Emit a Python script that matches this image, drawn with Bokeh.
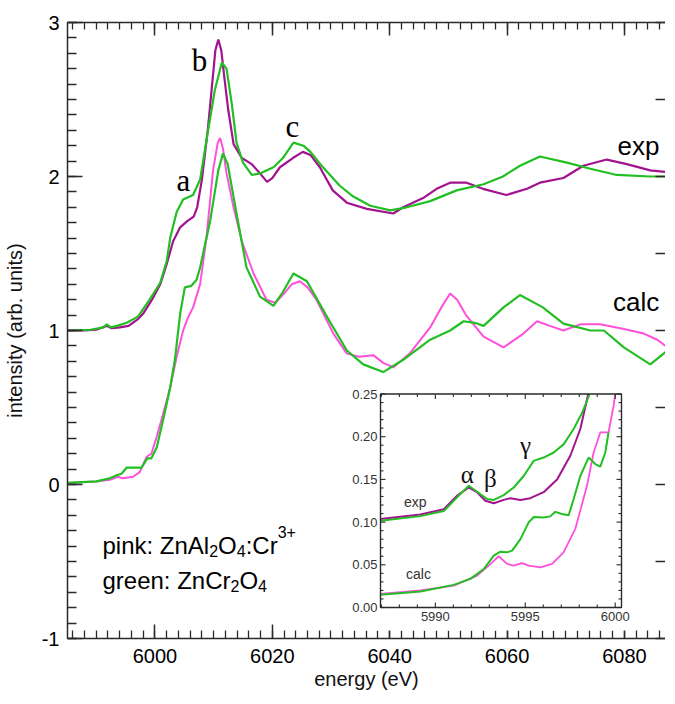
import numpy as np
from bokeh.plotting import figure
from bokeh.models import (Range1d, LinearAxis, SingleIntervalTicker,
                          CustomJSTickFormatter, ColumnDataSource)
from bokeh.core.properties import value
from bokeh.embed import file_html
from bokeh.resources import INLINE

# ---------------- data ----------------
exp_pink_e = [5985.1, 5988, 5990, 5991.8, 5992.6, 5994, 5995.5, 5997, 5998, 5999.5,
              6000.9, 6002, 6003.1, 6004.3, 6005.5, 6006.6, 6007.2, 6008.0, 6009.0,
              6009.7, 6010.3, 6010.8, 6011.3, 6011.9, 6012.5, 6013.4, 6014.8, 6016.5,
              6017.9, 6019.1, 6020.0, 6021.3, 6023.5, 6025.2, 6026.5, 6028.1, 6030.3,
              6032.7, 6036.1, 6040.6, 6042.3, 6045.7, 6048, 6050.3, 6053.1, 6055.9,
              6059.9, 6063.4, 6065.6, 6069.6, 6073, 6077, 6080.4, 6084.4, 6087]
exp_pink_i = [1.00, 1.00, 1.005, 1.03, 1.015, 1.02, 1.03, 1.07, 1.11, 1.20,
              1.30, 1.43, 1.58, 1.67, 1.71, 1.74, 1.80, 1.98, 2.30,
              2.58, 2.82, 2.89, 2.82, 2.62, 2.43, 2.21, 2.12, 2.08,
              2.02, 1.965, 1.99, 2.06, 2.12, 2.16, 2.14, 2.06, 1.91,
              1.83, 1.79, 1.76, 1.80, 1.86, 1.92, 1.96, 1.96, 1.92,
              1.88, 1.92, 1.96, 1.99, 2.07, 2.11, 2.08, 2.04, 2.03]

exp_green_e = [5985.1, 5989, 5991.2, 5991.8, 5992.5, 5993.5, 5995.2, 5997.1, 5999.1,
               6000.9, 6002.0, 6002.6, 6003.7, 6004.8, 6006.5, 6007.7, 6008.8, 6010.2,
               6011.4, 6012.2, 6013.1, 6013.9, 6015.0, 6016.5, 6017.9, 6020.2, 6021.8,
               6023.6, 6025.3, 6026.5, 6028.4, 6031.5, 6033.8, 6036.7, 6040.1, 6042.9,
               6046.9, 6051.4, 6056, 6059.3, 6062.2, 6065.6, 6070.2, 6074.2, 6078.7,
               6084.4, 6087]
exp_green_i = [1.00, 1.005, 1.02, 1.04, 1.02, 1.03, 1.05, 1.09, 1.20,
               1.31, 1.45, 1.60, 1.77, 1.85, 1.88, 1.98, 2.24, 2.56,
               2.74, 2.70, 2.47, 2.22, 2.09, 2.01, 2.02, 2.06, 2.12,
               2.22, 2.20, 2.16, 2.07, 1.94, 1.87, 1.81, 1.78, 1.80,
               1.84, 1.91, 1.95, 2.00, 2.07, 2.13, 2.09, 2.05, 2.01,
               2.00, 2.00]

calc_pink_e = [5985.1, 5990, 5992.3, 5993.7, 5994.5, 5996.3, 5997.4, 5998.6, 5999.4,
               6000.3, 6001.4, 6002.6, 6003.7, 6004.8, 6005.6, 6006.5, 6007.7, 6008.8,
               6009.9, 6010.7, 6011.1, 6011.6, 6012.2, 6013.4, 6014.8, 6016.8, 6019.0,
               6020.5, 6022.0, 6023.3, 6024.7, 6026.0, 6027.6, 6030.4, 6032.7, 6034.8,
               6037.2, 6038.9, 6040.6, 6043.4, 6046.9, 6048.8, 6050.3, 6051.5, 6053.0,
               6056, 6059.4, 6062.8, 6065.1, 6067.3, 6069.6, 6072.5, 6075.9, 6079.9,
               6083.3, 6085.6, 6087]
calc_pink_i = [0.01, 0.02, 0.03, 0.05, 0.04, 0.05, 0.08, 0.18, 0.20,
               0.31, 0.46, 0.63, 0.83, 1.00, 1.08, 1.15, 1.30, 1.61,
               2.04, 2.22, 2.25, 2.18, 2.02, 1.80, 1.58, 1.37, 1.20,
               1.18, 1.24, 1.30, 1.32, 1.28, 1.195, 0.98, 0.85, 0.83,
               0.84, 0.79, 0.76, 0.85, 1.02, 1.15, 1.24, 1.20, 1.10,
               0.96, 0.89, 0.98, 1.06, 1.03, 1.00, 1.04, 1.04, 1.01,
               0.98, 0.94, 0.90]

calc_green_e = [5985.1, 5990, 5992.3, 5993.5, 5994.3, 5995.2, 5996.9, 5997.7, 5998.7,
                5999.4, 6000.3, 6001.4, 6002.6, 6003.4, 6004.3, 6005.1, 6006.2, 6007.1,
                6007.7, 6009.4, 6010.8, 6011.6, 6012.4, 6013.9, 6015.6, 6017.9, 6020.2,
                6021.8, 6023.6, 6025.9, 6029.3, 6032.7, 6035.5, 6038.9, 6042.3, 6046.9,
                6050.3, 6052.6, 6054.5, 6056, 6059.4, 6062.2, 6066.1, 6069.6, 6074.2,
                6076.5, 6079.9, 6084.4, 6087]
calc_green_i = [0.01, 0.02, 0.04, 0.06, 0.07, 0.11, 0.11, 0.11, 0.17,
                0.17, 0.24, 0.42, 0.63, 0.81, 1.11, 1.28, 1.29, 1.33,
                1.41, 1.71, 2.04, 2.15, 2.08, 1.76, 1.41, 1.22, 1.16,
                1.25, 1.37, 1.32, 1.09, 0.87, 0.78, 0.73, 0.81, 0.94,
                1.00, 1.06, 1.05, 1.03, 1.15, 1.23, 1.15, 1.045, 1.00,
                1.00, 0.89, 0.78, 0.86]

# inset (pre-edge region)
ins_exp_pink_e = [5986.95, 5989.17, 5990.47, 5991.21, 5991.86, 5992.32, 5992.78, 5993.25,
                  5993.80, 5994.17, 5994.73, 5995.28, 5996.02, 5996.77, 5997.51, 5998.06,
                  5998.50]
ins_exp_pink_i = [0.1036, 0.109, 0.115, 0.131, 0.1405, 0.135, 0.125, 0.122,
                  0.126, 0.128, 0.126, 0.128, 0.135, 0.150, 0.178, 0.209, 0.25]

ins_exp_green_e = [5986.95, 5989.17, 5990.47, 5991.21, 5991.86, 5992.32, 5992.88, 5993.25,
                   5993.80, 5994.36, 5994.91, 5995.47, 5996.02, 5996.58, 5997.13, 5997.69,
                   5998.16, 5998.58]
ins_exp_green_i = [0.1016, 0.107, 0.113, 0.129, 0.1425, 0.1355, 0.127, 0.126,
                   0.1316, 0.1405, 0.154, 0.1717, 0.1756, 0.1815, 0.191, 0.209,
                   0.228, 0.25]

ins_calc_pink_e = [5986.95, 5989.17, 5991.02, 5992.32, 5992.97, 5993.52, 5993.99, 5994.36,
                   5994.82, 5995.19, 5995.84, 5996.49, 5997.13, 5997.78, 5998.43, 5998.80,
                   5999.17, 5999.63, 5999.91, 6000.0]
ins_calc_pink_i = [0.016, 0.0199, 0.0257, 0.0374, 0.049, 0.060, 0.051, 0.049,
                   0.052, 0.049, 0.047, 0.051, 0.0646, 0.092, 0.1425, 0.1815,
                   0.205, 0.205, 0.236, 0.25]

ins_calc_green_e = [5986.95, 5989.17, 5991.02, 5991.95, 5992.69, 5993.25, 5993.62, 5993.99,
                    5994.27, 5994.73, 5995.19, 5995.47, 5996.02, 5996.39, 5996.67, 5997.04,
                    5997.41, 5997.69, 5998.06, 5998.52, 5998.89, 5999.17, 5999.45, 5999.63]
ins_calc_green_i = [0.0148, 0.0187, 0.0265, 0.0335, 0.045, 0.0607, 0.0654, 0.0646,
                    0.0666, 0.080, 0.0997, 0.106, 0.1055, 0.1067, 0.112, 0.1095,
                    0.108, 0.127, 0.154, 0.1756, 0.168, 0.165, 0.1815, 0.205]

inset_x_ticks = [5990, 5995, 6000]
inset_y_ticks = [0.00, 0.05, 0.10, 0.15, 0.20, 0.25]

# ---------------- styling ----------------
SANS = "Liberation Sans"
SERIF = "Liberation Serif"
EXP_PINK = "#a3138f"
CALC_PINK = "#ff50dc"
GREEN = "#22bf22"
AXC = "#2a2a2a"

X0, X1 = 5985.1, 6087.0
FW, FH = 598, 616

p = figure(frame_width=FW, frame_height=FH, x_range=Range1d(X0, X1), y_range=Range1d(-1, 3),
           output_backend="svg", toolbar_location=None,
           min_border_left=59, min_border_top=22, min_border_bottom=58, min_border_right=0)
p.outline_line_color = None
p.grid.visible = False
p.background_fill_color = "white"
p.border_fill_color = "white"

empty = CustomJSTickFormatter(code="return ''")


def style(ax, major_in, minor_in):
    ax.major_tick_in = major_in
    ax.major_tick_out = 0
    ax.minor_tick_in = minor_in
    ax.minor_tick_out = 0
    ax.axis_line_color = AXC
    ax.axis_line_width = 1.5
    ax.major_tick_line_color = AXC
    ax.major_tick_line_width = 1.5
    ax.minor_tick_line_color = AXC
    ax.minor_tick_line_width = 1.3
    ax.major_label_text_font = SANS
    ax.major_label_text_font_size = "20px"
    ax.major_label_text_color = "black"
    ax.axis_label_text_font = SANS
    ax.axis_label_text_font_size = "20px"
    ax.axis_label_text_font_style = "normal"
    ax.axis_label_text_color = "#111111"


xb = p.xaxis[0]
xb.ticker = SingleIntervalTicker(interval=20, num_minor_ticks=10)
style(xb, 14, 8)
xb.major_label_standoff = 10
xb.axis_label = "energy (eV)"
xb.axis_label_standoff = 2

yl = p.yaxis[0]
yl.ticker = SingleIntervalTicker(interval=1, num_minor_ticks=10)
yl.formatter = CustomJSTickFormatter(code="return tick.toFixed(0)")
style(yl, 15, 9)
yl.major_label_standoff = 8
yl.axis_label = "intensity (arb. units)"
yl.axis_label_standoff = 13

top = LinearAxis(ticker=SingleIntervalTicker(interval=20, num_minor_ticks=10), formatter=empty)
style(top, 13, 7)
top.major_label_standoff = 0
p.add_layout(top, "above")

right = LinearAxis(ticker=SingleIntervalTicker(interval=0.5, num_minor_ticks=0), formatter=empty)
style(right, 10, 0)
right.axis_line_color = None
right.major_label_standoff = 0
p.add_layout(right, "right")

# ---------------- main curves ----------------
p.line(exp_pink_e, exp_pink_i, line_color=EXP_PINK, line_width=2.2)
p.line(exp_green_e, exp_green_i, line_color=GREEN, line_width=2.2)
p.line(calc_pink_e, calc_pink_i, line_color=CALC_PINK, line_width=2.0)
p.line(calc_green_e, calc_green_i, line_color=GREEN, line_width=2.2)

# peak letters
p.text(x=[6004.86, 6007.6, 6023.4], y=[1.974, 2.753, 2.325], text=["a", "b", "c"],
       text_font=value(SERIF), text_font_size="31px", text_align="center",
       text_baseline="alphabetic", text_color="black")
p.text(x=[6082.4, 6082.0], y=[2.20, 1.182], text=["exp", "calc"],
       text_font=value(SANS), text_font_size="26px", text_align="center",
       text_baseline="alphabetic", text_color="black")

# composition legend with sub/superscripts
LX, LY1, LY2 = 5991.06, -0.396, -0.623
leg = ColumnDataSource(dict(
    x=[LX] * 10,
    y=[LY1] * 6 + [LY2] * 4,
    text=["pink: ZnAl", "2", "O", "4", ":Cr", "3+", "green: ZnCr", "2", "O", "4"],
    xo=[0, 106.7, 115.6, 134.3, 143.2, 175.2, 0, 128.0, 136.9, 155.6],
    yo=[0, 6, 0, 6, 0, -13, 0, 6, 0, 6],
    fs=["24px", "16px", "24px", "16px", "24px", "16px", "24px", "16px", "24px", "16px"],
))
p.text(x="x", y="y", text="text", x_offset="xo", y_offset="yo", text_font_size="fs",
       source=leg, text_font=value(SANS), text_baseline="alphabetic", text_color="black")

# ---------------- inset (drawn through its own ranges) ----------------
# inset box in frame pixels (from frame left / frame top)
IL, IR, IT, IB = 313.0, 554.0, 371.5, 585.0
IX0, IX1 = 5986.95, 6000.35
IY0, IY1 = 0.0, 0.25
sx = (IX1 - IX0) / (IR - IL)
sy = (IY1 - IY0) / (IB - IT)
p.extra_x_ranges = {"ix": Range1d(IX0 - IL * sx, IX0 + (FW - IL) * sx)}
p.extra_y_ranges = {"iy": Range1d(IY0 - (FH - IB) * sy, IY0 + IB * sy)}
kw = dict(x_range_name="ix", y_range_name="iy", level="overlay")

# white panel behind the inset (also covers its tick labels)
p.quad(left=[IX0 - 30 * sx], right=[IX1 + 7 * sx], bottom=[IY0 - 23 * sy], top=[IY1 + 7 * sy],
       fill_color="white", line_color=None, **kw)

p.line(ins_exp_pink_e, ins_exp_pink_i, line_color=EXP_PINK, line_width=2.0, **kw)
p.line(ins_exp_green_e, ins_exp_green_i, line_color=GREEN, line_width=2.0, **kw)
p.line(ins_calc_pink_e, ins_calc_pink_i, line_color=CALC_PINK, line_width=1.8, **kw)
p.line(ins_calc_green_e, ins_calc_green_i, line_color=GREEN, line_width=2.0, **kw)

p.quad(left=[IX0], right=[IX1], bottom=[IY0], top=[IY1], fill_color=None,
       line_color=AXC, line_width=1.4, **kw)

# inset ticks (rays of fixed screen length)
xt = np.arange(5987, 6001)
xmaj = np.isin(xt, inset_x_ticks)
xlen = np.where(xmaj, 5.0, 3.0)
p.ray(x=xt, y=[IY0] * len(xt), length=xlen, angle=np.pi / 2, length_units="screen",
      line_color=AXC, line_width=1.1, **kw)
p.ray(x=xt, y=[IY1] * len(xt), length=xlen, angle=-np.pi / 2, length_units="screen",
      line_color=AXC, line_width=1.1, **kw)
yt = np.round(np.arange(0, 0.2501, 0.01), 3)
ymaj = np.isclose(np.mod(np.round(yt * 100), 5), 0)
ylen = np.where(ymaj, 5.0, 3.0)
p.ray(x=[IX0] * len(yt), y=yt, length=ylen, angle=0, length_units="screen",
      line_color=AXC, line_width=1.1, **kw)
p.ray(x=[IX1] * len(yt), y=yt, length=ylen, angle=np.pi, length_units="screen",
      line_color=AXC, line_width=1.1, **kw)

p.text(x=[IX0] * len(inset_y_ticks), y=inset_y_ticks, text=[f"{v:.2f}" for v in inset_y_ticks],
       x_offset=-3, text_align="right", text_baseline="middle", text_font=value(SANS),
       text_font_size="13px", text_color="#333333", **kw)
p.text(x=inset_x_ticks, y=[IY0] * 3, text=[str(v) for v in inset_x_ticks],
       y_offset=4, text_align="center", text_baseline="top", text_font=value(SANS),
       text_font_size="13px", text_color="#333333", **kw)

p.text(x=[5988.26, 5988.37], y=[0.124, 0.0398], text=["exp", "calc"],
       text_font=value(SANS), text_font_size="14px", text_align="left",
       text_baseline="alphabetic", text_color="#333333", **kw)
p.text(x=[5991.78, 5993.06, 5995.01], y=[0.1557, 0.151, 0.19], text=["α", "β", "γ"],
       text_font=value(SERIF), text_font_size="25px", text_align="center",
       text_baseline="alphabetic", text_color="#111111", **kw)

open("out.html", "w").write(file_html(p, INLINE))
